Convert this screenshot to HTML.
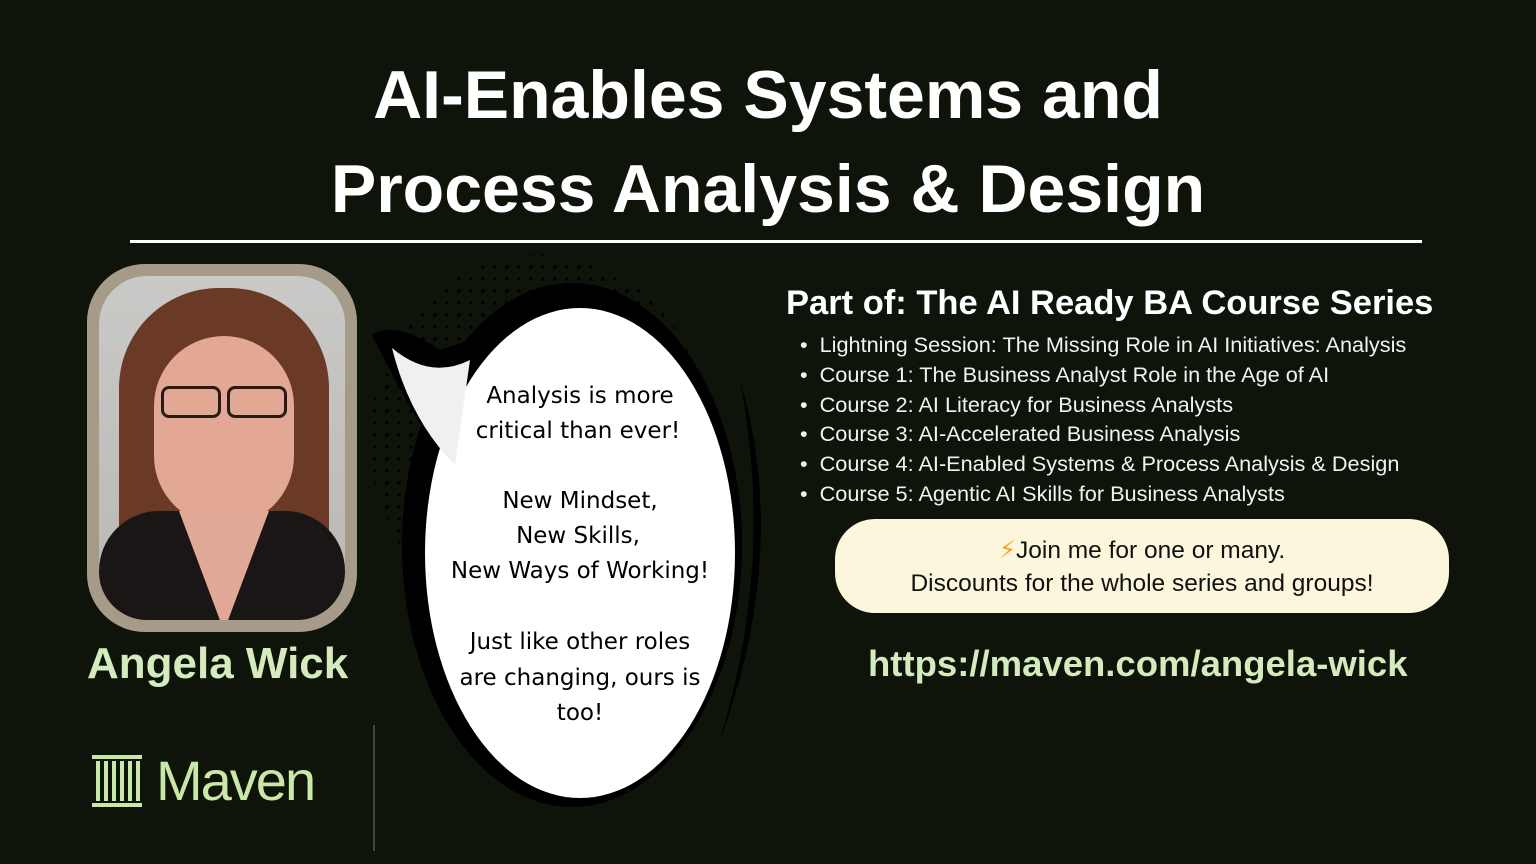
<!DOCTYPE html>
<html><head><meta charset="utf-8"><style>
*{margin:0;padding:0;box-sizing:border-box}
body{width:1536px;height:864px;background:#0e1409;overflow:hidden;position:relative;font-family:"Liberation Sans","DejaVu Sans",sans-serif;color:#fff}
.t{position:absolute;left:0;width:1536px;text-align:center;font-weight:bold;font-size:68px;line-height:94px}
.rule{position:absolute;left:130px;top:240px;width:1292px;height:3px;background:#fff}
.h2{position:absolute;left:786px;top:284px;font-size:34.5px;font-weight:bold;white-space:nowrap}
ul{position:absolute;left:800px;top:330px;font-size:21.7px;line-height:29.8px;list-style:none;color:#f2f2f2;white-space:nowrap}
ul li:before{content:"•";margin-right:12px}
.pill{position:absolute;left:835px;top:519px;width:614px;height:94px;border-radius:40px;background:#fbf6dc;color:#111;text-align:center;font-size:24.5px;line-height:33px;padding-top:15px}
.url{position:absolute;left:868px;top:643px;font-size:36.5px;font-weight:bold;color:#d4ebbd;white-space:nowrap}
.name{position:absolute;left:87px;top:639px;font-size:44px;font-weight:bold;color:#d4ebbd}
.maven{position:absolute;left:156px;top:748px;font-size:56px;color:#c9e8a8;letter-spacing:-2px}
.vline{position:absolute;left:373px;top:725px;width:2px;height:126px;background:#444}
.photo{position:absolute;left:87px;top:264px;width:270px;height:368px;border-radius:58px;background:#a69a89;padding:12px}
.photo>div{width:100%;height:100%;border-radius:48px;overflow:hidden;background:linear-gradient(#c9c9c7,#b9b7b3);position:relative}
</style></head><body>
<div class="t" style="top:48px">AI-Enables Systems and</div>
<div class="t" style="top:142px">Process Analysis &amp; Design</div>
<div class="rule"></div>
<div class="photo"><div>
<div style="position:absolute;left:20px;top:12px;width:210px;height:290px;border-radius:100px 100px 40px 40px;background:#6b3a26"></div>
<div style="position:absolute;left:55px;top:60px;width:140px;height:190px;border-radius:70px;background:#e2a894"></div>
<div style="position:absolute;left:62px;top:110px;width:60px;height:32px;border:3px solid #2a1a14;border-radius:8px"></div>
<div style="position:absolute;left:128px;top:110px;width:60px;height:32px;border:3px solid #2a1a14;border-radius:8px"></div>
<div style="position:absolute;left:0;top:235px;width:246px;height:120px;background:#1a1616;border-radius:60px 60px 0 0"></div>
<div style="position:absolute;left:80px;top:235px;width:90px;height:120px;background:#e0a996;clip-path:polygon(0 0,100% 0,50% 100%)"></div>
</div></div>
<div class="name">Angela Wick</div>
<svg style="position:absolute;left:92px;top:755px" width="50" height="52"><g fill="#c9e8a8"><rect x="0" y="0" width="50" height="4"/><rect x="0" y="48" width="50" height="4"/><rect x="4" y="6" width="4" height="40"/><rect x="12" y="6" width="4" height="40"/><rect x="20" y="6" width="4" height="40"/><rect x="28" y="6" width="4" height="40"/><rect x="36" y="6" width="4" height="40"/><rect x="44" y="6" width="4" height="40"/></g></svg>
<div class="maven">Maven</div>
<div class="vline"></div>
<svg style="position:absolute;left:0;top:0" width="1536" height="864">
<defs><pattern id="d" width="12" height="12" patternUnits="userSpaceOnUse"><circle cx="3" cy="3" r="1.8" fill="#000"/></pattern></defs>
<ellipse cx="540" cy="440" rx="170" ry="185" fill="url(#d)"/>
<ellipse cx="572" cy="545" rx="170" ry="262" fill="#000"/>
<path d="M372 335 Q395 320 440 350 L470 340 L450 470 Q420 430 372 335Z" fill="#000"/>
<ellipse cx="580" cy="553" rx="155" ry="245" fill="#fff"/>
<path d="M392 348 Q430 380 470 360 L455 465 Q410 420 392 348Z" fill="#f0f0f0"/>
<path d="M740 380 Q790 550 720 740 Q775 560 740 380Z" fill="#000"/>
<g font-family="'DejaVu Sans',sans-serif" font-size="23" fill="#000" text-anchor="middle">
<text x="580" y="403">Analysis is more</text>
<text x="578" y="438">critical than ever!</text>
<text x="580" y="508">New Mindset,</text>
<text x="578" y="543">New Skills,</text>
<text x="580" y="578">New Ways of Working!</text>
<text x="580" y="649">Just like other roles</text>
<text x="580" y="685">are changing, ours is</text>
<text x="580" y="720">too!</text>
</g></svg>
<div class="h2">Part of: The AI Ready BA Course Series</div>
<ul>
<li>Lightning Session: The Missing Role in AI Initiatives: Analysis</li>
<li>Course 1: The Business Analyst Role in the Age of AI</li>
<li>Course 2: AI Literacy for Business Analysts</li>
<li>Course 3: AI-Accelerated Business Analysis</li>
<li>Course 4: AI-Enabled Systems &amp; Process Analysis &amp; Design</li>
<li>Course 5: Agentic AI Skills for Business Analysts</li>
</ul>
<div class="pill"><span style="color:#f5a623">⚡</span>Join me for one or many.<br>Discounts for the whole series and groups!</div>
<div class="url">https://maven.com/angela-wick</div>
</body></html>
